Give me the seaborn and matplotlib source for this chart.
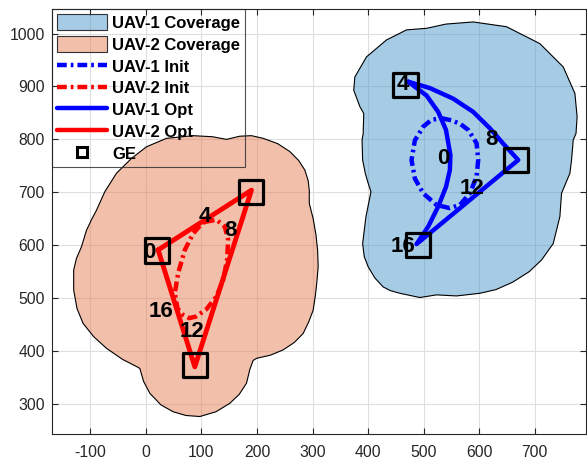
import matplotlib
matplotlib.use('Agg')
import matplotlib.pyplot as plt
import seaborn as sns
from matplotlib.patches import Patch
from matplotlib.lines import Line2D

# coverage outlines
cov1_x = [505, 469, 433, 397, 376, 374, 385, 392, 391, 389, 390, 395, 400, 405, 396, 390, 393, 400,
          412, 427, 440, 457, 493, 523, 559, 601, 630, 660, 690, 712, 733, 745, 748, 763, 766, 769,
          774, 776, 772, 751, 709, 649, 589, 540, 505]
cov1_y = [1010, 1007, 988, 956, 918, 893, 862, 849, 811, 799, 761, 735, 717, 701, 654, 603, 578, 559,
          538, 521, 514, 509, 501, 506, 504, 509, 516, 530, 550, 572, 603, 654, 698, 736, 761, 799,
          811, 843, 887, 937, 981, 1013, 1022, 1018, 1010]
cov2_x = [1, 37, 85, 120, 145, 169, 190, 211, 237, 259, 275, 286, 292, 294, 294, 301, 306, 309, 310,
          308, 305, 301, 293, 283, 267, 247, 224, 199, 193, 187, 181, 168, 151, 126, 97, 72, 49,
          27, 7, -4, -11, -16, -42, -71, -94, -113, -124, -130, -130, -125, -116, -107, -98, -89,
          -74, -53, -26, 1]
cov2_y = [786, 802, 807, 805, 800, 806, 807, 802, 792, 777, 760, 742, 722, 704, 679, 650, 620, 590, 560,
          534, 505, 477, 455, 433, 416, 402, 392, 386, 382, 365, 339, 318, 301, 285, 276, 278, 285,
          298, 320, 342, 367, 370, 384, 405, 427, 452, 480, 515, 553, 575, 597, 628, 648, 666,
          701, 736, 764, 786]

# initial trajectories
init1_x = [532, 550, 566, 580, 595, 598, 595, 583, 565, 547, 523, 499, 484, 478, 484, 499, 514, 532]
init1_y = [840, 836, 829, 818, 793, 761, 729, 698, 676, 670, 676, 698, 726, 761, 798, 824, 837, 840]
init2_x = [106, 127, 142, 148, 146, 139, 127, 109, 90, 78, 67, 57, 52, 58, 70, 85, 100, 106]
init2_y = [644, 648, 635, 610, 572, 534, 503, 479, 465, 462, 468, 480, 509, 547, 591, 622, 640, 644]

# optimised trajectories
opt1_x = [472, 511, 553, 589, 619, 643, 670, 487, 508, 526, 540, 547, 548, 540, 526, 505, 472]
opt1_y = [909, 897, 877, 852, 821, 792, 761, 602, 635, 673, 710, 742, 770, 818, 852, 883, 909]
opt2_x = [22, 190, 88, 22]
opt2_y = [591, 704, 370, 591]

# ground equipment
ge_x = [467, 666, 490, 189, 20, 88]
ge_y = [903, 761, 600, 701, 590, 373]

# time index labels
lab1_text = ['0', '4', '8', '12', '16']
lab1_x = [535, 463, 622, 586, 463]
lab1_y = [764, 903, 799, 707, 597]
lab2_text = ['0', '4', '8', '12', '16']
lab2_x = [6, 106, 153, 83, 28]
lab2_y = [586, 654, 627, 437, 474]

sns.set_style('ticks')
plt.rcParams['font.family'] = ['Liberation Sans', 'DejaVu Sans']
plt.rcParams['axes.unicode_minus'] = False

fill1 = (0.3, 0.6, 0.8, 0.5)
fill2 = (0.9, 0.5, 0.35, 0.5)
dashdot = (0, (2.2, 0.9, 0.6, 0.9))
lw = 3.2

fig = plt.figure(figsize=(5.87, 4.61), dpi=100)
ax = fig.add_axes([0.0886, 0.0586, 0.9097, 0.9213])

# coverage areas
ax.fill(cov1_x, cov1_y, facecolor=fill1, edgecolor='black', linewidth=0.8, zorder=1)
ax.fill(cov2_x, cov2_y, facecolor=fill2, edgecolor='black', linewidth=0.8, zorder=1)

# trajectories
sns.lineplot(x=init1_x, y=init1_y, sort=False, estimator=None, color='blue', lw=lw,
             linestyle=dashdot, ax=ax, zorder=2)
sns.lineplot(x=init2_x, y=init2_y, sort=False, estimator=None, color='red', lw=lw,
             linestyle=dashdot, ax=ax, zorder=2)
sns.lineplot(x=opt1_x, y=opt1_y, sort=False, estimator=None, color='blue', lw=lw, ax=ax, zorder=3)
sns.lineplot(x=opt2_x, y=opt2_y, sort=False, estimator=None, color='red', lw=lw + 0.3, ax=ax, zorder=3)

# GE squares
sns.scatterplot(x=ge_x, y=ge_y, marker='s', s=310, facecolor='none', edgecolor='black',
                linewidth=2.3, ax=ax, zorder=5)

for t, x, y in zip(lab1_text, lab1_x, lab1_y):
    ax.text(x, y, t, fontsize=16, fontweight='bold', color='black',
            ha='center', va='center', zorder=6)
for t, x, y in zip(lab2_text, lab2_x, lab2_y):
    ax.text(x, y, t, fontsize=16, fontweight='bold', color='black',
            ha='center', va='center', zorder=6)

ax.set_xlim(-169, 792)
ax.set_ylim(243, 1046)
ax.set_xticks(range(-100, 701, 100))
ax.set_yticks(range(300, 1001, 100))
ax.grid(True, color='#dedede', linewidth=0.8)
ax.set_axisbelow(True)
for sp in ax.spines.values():
    sp.set_visible(True)
    sp.set_color('#262626')
    sp.set_linewidth(0.8)
ax.tick_params(direction='in', length=4, width=0.8, top=True, right=True,
               colors='#262626', labelsize=11.3)
ax.tick_params(axis='x', pad=8)
ax.tick_params(axis='y', pad=5)

handles = [
    Patch(facecolor=fill1, edgecolor='#333333', linewidth=0.8),
    Patch(facecolor=fill2, edgecolor='#333333', linewidth=0.8),
    Line2D([], [], color='blue', lw=lw, linestyle=dashdot),
    Line2D([], [], color='red', lw=lw, linestyle=dashdot),
    Line2D([], [], color='blue', lw=lw),
    Line2D([], [], color='red', lw=lw),
    Line2D([], [], ls='none', marker='s', ms=7, mfc='none', mec='black', mew=2.2),
]
labels = ['UAV-1 Coverage', 'UAV-2 Coverage', 'UAV-1 Init', 'UAV-2 Init',
          'UAV-1 Opt', 'UAV-2 Opt', 'GE']
leg = ax.legend(handles, labels, loc='upper left', borderaxespad=0, frameon=True,
                fancybox=False, edgecolor='#262626', facecolor='none', labelcolor='black',
                prop={'weight': 'bold', 'size': 12}, handlelength=3.0,
                handleheight=1.1, labelspacing=0.31, handletextpad=0.3, borderpad=0.3)
leg.get_frame().set_linewidth(0.8)

fig.savefig('out.png', dpi=100)
